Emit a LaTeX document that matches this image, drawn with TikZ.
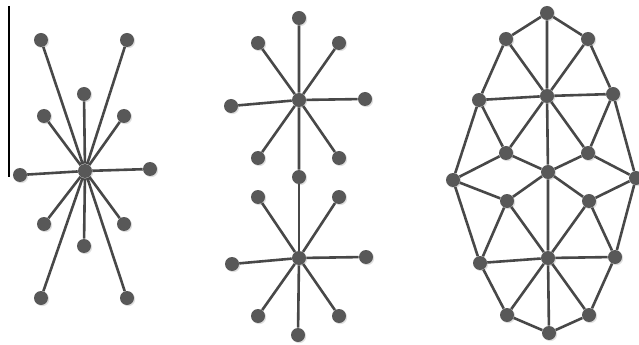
\documentclass[tikz,border=0pt]{standalone}
\usetikzlibrary{shadows}

\definecolor{dotgray}{RGB}{88,88,88}
\definecolor{linegray}{RGB}{72,72,72}

\begin{document}
\begin{tikzpicture}[
  dot/.style={circle,fill=dotgray,minimum size=3.5mm,inner sep=0pt,
    drop shadow={shadow xshift=0.3mm,shadow yshift=-0.3mm,opacity=0.25}},
  link/.style={linegray,line width=0.65mm},
  x=0.25mm,y=-0.25mm
]
  \useasboundingbox (0,0) rectangle (639,345);

  % left star
  \coordinate (bt) at (9,6);
  \coordinate (bb) at (9,177);
  \draw[black,line width=0.3mm] (bt)--(bb);

  \node[dot] (a0) at (85,171) {};
  \node[dot] (a1) at (41,40) {};
  \node[dot] (a2) at (127,40) {};
  \node[dot] (a3) at (84,94) {};
  \node[dot] (a4) at (44,116) {};
  \node[dot] (a5) at (124,116) {};
  \node[dot] (a6) at (20,175) {};
  \node[dot] (a7) at (150,169) {};
  \node[dot] (a8) at (44,224) {};
  \node[dot] (a9) at (124,224) {};
  \node[dot] (a10) at (84,246) {};
  \node[dot] (a11) at (41,298) {};
  \node[dot] (a12) at (127,298) {};

  \draw[link] (a0)--(a1) (a0)--(a2) (a0)--(a3) (a0)--(a4);
  \draw[link] (a0)--(a5) (a0)--(a6) (a0)--(a7) (a0)--(a8);
  \draw[link] (a0)--(a9) (a0)--(a10) (a0)--(a11) (a0)--(a12);

  % two joined stars
  \node[dot] (bh) at (299,100) {};
  \node[dot] (b1) at (299,18) {};
  \node[dot] (b2) at (258,43) {};
  \node[dot] (b3) at (339,43) {};
  \node[dot] (b4) at (231,106) {};
  \node[dot] (b5) at (365,99) {};
  \node[dot] (b6) at (258,158) {};
  \node[dot] (b7) at (339,158) {};
  \node[dot] (bm) at (299,177) {};

  \node[dot] (ch) at (299,258) {};
  \node[dot] (c1) at (258,197) {};
  \node[dot] (c2) at (339,197) {};
  \node[dot] (c3) at (232,264) {};
  \node[dot] (c4) at (366,257) {};
  \node[dot] (c5) at (258,316) {};
  \node[dot] (c6) at (339,316) {};
  \node[dot] (c7) at (298,335) {};

  \draw[link] (bh)--(b1) (bh)--(b2) (bh)--(b3) (bh)--(b4);
  \draw[link] (bh)--(b5) (bh)--(b6) (bh)--(b7) (bh)--(bm);
  \draw[link] (bm)--(ch);
  \draw[link] (ch)--(c1) (ch)--(c2) (ch)--(c3) (ch)--(c4);
  \draw[link] (ch)--(c5) (ch)--(c6) (ch)--(c7);

  % mesh
  \node[dot] (g1) at (547,13) {};
  \node[dot] (g2) at (506,39) {};
  \node[dot] (g3) at (588,39) {};
  \node[dot] (g4) at (479,100) {};
  \node[dot] (g5) at (547,96) {};
  \node[dot] (g6) at (613,94) {};
  \node[dot] (g7) at (506,153) {};
  \node[dot] (g8) at (588,153) {};
  \node[dot] (g9) at (453,180) {};
  \node[dot] (g10) at (548,172) {};
  \node[dot] (g11) at (636,178) {};
  \node[dot] (g12) at (507,201) {};
  \node[dot] (g13) at (589,201) {};
  \node[dot] (g14) at (480,263) {};
  \node[dot] (g15) at (548,258) {};
  \node[dot] (g16) at (615,257) {};
  \node[dot] (g17) at (507,315) {};
  \node[dot] (g18) at (589,315) {};
  \node[dot] (g19) at (549,333) {};

  \draw[link] (g1)--(g2) (g1)--(g3) (g1)--(g5);
  \draw[link] (g2)--(g4) (g2)--(g5) (g3)--(g5) (g3)--(g6);
  \draw[link] (g4)--(g5) (g5)--(g6);
  \draw[link] (g4)--(g7) (g4)--(g9) (g5)--(g7) (g5)--(g8) (g5)--(g10);
  \draw[link] (g6)--(g8) (g6)--(g11);
  \draw[link] (g7)--(g9) (g7)--(g10) (g8)--(g10) (g8)--(g11);
  \draw[link] (g9)--(g12) (g9)--(g14) (g10)--(g12) (g10)--(g13) (g10)--(g15);
  \draw[link] (g11)--(g13) (g11)--(g16);
  \draw[link] (g12)--(g14) (g12)--(g15) (g13)--(g15) (g13)--(g16);
  \draw[link] (g14)--(g15) (g15)--(g16);
  \draw[link] (g14)--(g17) (g15)--(g17) (g15)--(g18) (g15)--(g19) (g16)--(g18);
  \draw[link] (g17)--(g19) (g18)--(g19);
\end{tikzpicture}
\end{document}
